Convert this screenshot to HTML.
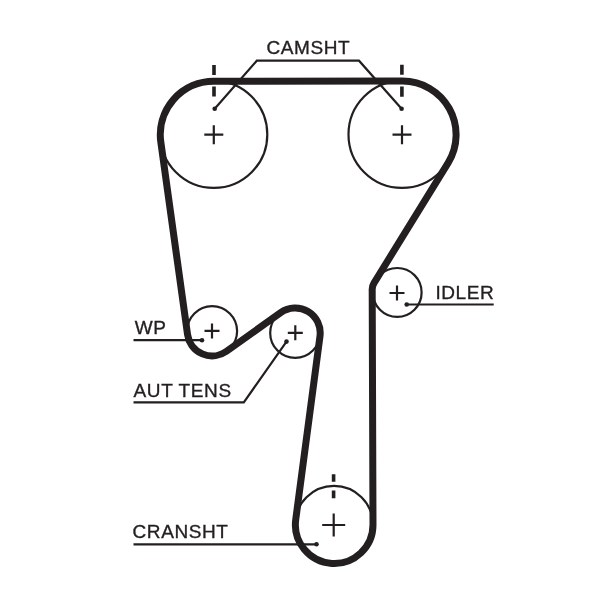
<!DOCTYPE html>
<html><head><meta charset="utf-8"><title>Timing belt diagram</title>
<style>
html,body{margin:0;padding:0;background:#fff;}
body{width:600px;height:589px;overflow:hidden;}
svg{display:block;will-change:transform;}
text{font-family:"Liberation Sans",Arial,Helvetica,sans-serif;font-size:19px;letter-spacing:0.6px;fill:#231f20;stroke:#231f20;stroke-width:0.35;}
.thin{fill:none;stroke:#231f20;stroke-width:2.2;}
.belt{fill:none;stroke:#231f20;stroke-width:7;stroke-linejoin:round;}
.tick{fill:none;stroke:#231f20;stroke-width:3.6;}
.dot{fill:#231f20;}
</style></head><body>
<svg width="600" height="589" viewBox="0 0 600 589">
<rect width="600" height="589" fill="#fff"/>
<!-- pulleys -->
<circle class="thin" cx="213.8" cy="134.4" r="53.5"/>
<circle class="thin" cx="402" cy="134.4" r="53.5"/>
<circle class="thin" cx="397.2" cy="292.4" r="24.4"/>
<circle class="thin" cx="334" cy="524.7" r="38.9"/>
<circle class="thin" cx="295.2" cy="332.9" r="25"/>
<circle class="thin" cx="212.1" cy="331.1" r="25"/>
<!-- crosses -->
<path class="thin" d="M204.3,134.7H223.3M213.8,125.2V144.2"/>
<path class="thin" d="M392.5,134.7H411.5M402,125.2V144.2"/>
<path class="thin" d="M389.5,293H404.5M397,285.5V300.5"/>
<path class="thin" d="M322.2,525H345.2M333.7,513.5V536.5"/>
<path class="thin" d="M287.8,332.8H302.8M295.3,325.3V340.3"/>
<path class="thin" d="M204.5,330.9H219.5M212,323.4V338.4"/>
<!-- timing ticks -->
<path class="tick" d="M214,65V75M214,86.5V96.6"/>
<path class="tick" d="M401.9,64.7V74.7M401.9,86.6V96.7"/>
<path class="tick" d="M333.6,474.2V481.8M333.6,490.5V498.3"/>
<!-- belt -->
<path class="belt" d="M213.77,81.20 L402.47,81.10 A53.60,53.60 0 0 1 448.12,162.83 L373.97,283.09 A12.00,12.00 0 0 0 372.19,289.43 L373.00,524.57 A38.80,38.80 0 1 1 295.73,519.62 L319.98,336.18 A25.00,25.00 0 0 0 280.66,312.56 L226.53,351.27 A24.80,24.80 0 0 1 187.54,334.51 L160.81,142.06 A53.50,53.50 0 0 1 213.77,81.20 Z"/>
<!-- leaders -->
<path class="thin" d="M214.7,108.7L256.8,60.7H359L401.6,108.7"/>
<circle class="dot" cx="214.7" cy="108.7" r="2.3"/>
<circle class="dot" cx="401.6" cy="108.7" r="2.3"/>
<path class="thin" d="M406.7,304.5H493.7"/>
<circle class="dot" cx="406.7" cy="304.5" r="2.3"/>
<path class="thin" d="M133.5,340.2H202"/>
<circle class="dot" cx="202" cy="340.2" r="2.3"/>
<path class="thin" d="M133.5,402.4H243.8L286.5,341.6"/>
<circle class="dot" cx="286.5" cy="341.6" r="2.3"/>
<path class="thin" d="M133.5,544.3H316.5"/>
<circle class="dot" cx="316.5" cy="544.3" r="2.3"/>
<!-- labels -->
<text x="266.5" y="53.7">CAMSHT</text>
<text x="435.4" y="299">IDLER</text>
<text x="134.8" y="334">WP</text>
<text x="133.6" y="397.4">AUT TENS</text>
<text x="132.5" y="537.6">CRANSHT</text>
</svg>
</body></html>
